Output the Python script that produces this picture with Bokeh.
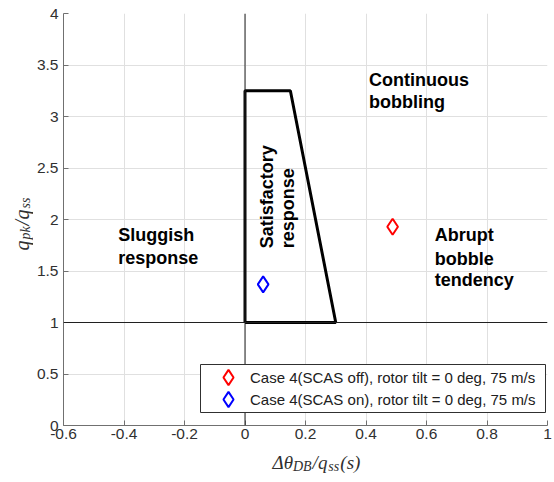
import math
from bokeh.plotting import figure
from bokeh.layouts import row, column
from bokeh.models import Range1d, Span, Legend, LegendItem, FixedTicker, BoxAnnotation
from bokeh.core.properties import value
from bokeh.embed import file_html
from bokeh.resources import INLINE

# ---- data ----
x_ticks = [-0.6, -0.4, -0.2, 0, 0.2, 0.4, 0.6, 0.8, 1]
x_tick_labels = ["-0.6", "-0.4", "-0.2", "0", "0.2", "0.4", "0.6", "0.8", "1"]
y_ticks = [0, 0.5, 1, 1.5, 2, 2.5, 3, 3.5, 4]
y_tick_labels = ["0", "0.5", "1", "1.5", "2", "2.5", "3", "3.5", "4"]

boundary_x = [0, 0, 0.15, 0.30, 0]
boundary_y = [1, 3.25, 3.25, 1, 1]
ref_x = 0
ref_y = 1

case_names = ["Case 4(SCAS off), rotor tilt = 0 deg, 75 m/s",
              "Case 4(SCAS on), rotor tilt = 0 deg, 75 m/s"]
case_x = [0.488, 0.06]
case_y = [1.93, 1.37]
case_colors = ["#ff0000", "#0000ff"]

region_lines = ["Continuous", "bobbling", "Sluggish", "response", "Abrupt", "bobble", "tendency"]
region_x = [0.41, 0.41, -0.419, -0.419, 0.627, 0.627, 0.627]
region_y = [3.35, 3.136, 1.845, 1.631, 1.845, 1.621, 1.408]

sat_lines = ["Satisfactory", "response"]
sat_x = [0.073, 0.142]
sat_y = [1.72, 1.72]

# axis label pieces (main text / subscript)
xlabel_parts = ["Δθ", "DB", "/", "q", "ss", "(s)"]
xlabel_sub = [False, True, False, False, True, False]
ylabel_parts = ["q", "pk", "/", "q", "ss"]
ylabel_sub = [False, True, False, False, True]

W, H = 554, 482
YL_W = 33          # width of the y-label strip
MAIN_H = 445       # height of main plot
XL_H = H - MAIN_H  # height of x-label strip

# ---- main figure ----
p = figure(width=W - YL_W, height=MAIN_H, x_range=Range1d(-0.6, 1), y_range=Range1d(0, 4),
           output_backend="svg", toolbar_location=None,
           min_border_left=63 - YL_W, min_border_right=7, min_border_top=13,
           min_border_bottom=MAIN_H - 425)
p.outline_line_color = None
p.background_fill_color = "white"
p.border_fill_color = "white"

for ax, ticks, labels in ((p.xaxis[0], x_ticks, x_tick_labels), (p.yaxis[0], y_ticks, y_tick_labels)):
    ax.ticker = FixedTicker(ticks=ticks)
    ax.major_label_overrides = {t: l for t, l in zip(ticks, labels)}
    ax.major_tick_in = 5
    ax.major_tick_out = 0
    ax.minor_tick_line_color = None
    ax.axis_line_color = "#707070"
    ax.major_tick_line_color = "#707070"
    ax.major_label_text_font = "Liberation Sans"
    ax.major_label_text_font_size = "15.5px"
    ax.major_label_text_color = "#303030"
    ax.axis_label = None
p.xaxis[0].major_label_standoff = 3
p.yaxis[0].major_label_standoff = 5

p.xgrid.ticker = FixedTicker(ticks=x_ticks)
p.ygrid.ticker = FixedTicker(ticks=y_ticks)
p.grid.grid_line_color = "#e0e0e0"
p.grid.grid_line_width = 1

p.add_layout(Span(location=ref_x, dimension="height", line_color="#202020", line_width=1))
p.add_layout(Span(location=ref_y, dimension="width", line_color="#202020", line_width=1))

p.line(boundary_x, boundary_y, line_color="black", line_width=3)

p.text(x=region_x, y=region_y, text=region_lines, text_font=value("Liberation Sans"),
       text_font_style="bold", text_font_size="18px", text_align="left",
       text_baseline="middle", text_color="black")
p.text(x=sat_x, y=sat_y, text=sat_lines, angle=math.pi / 2, text_font=value("Liberation Sans"),
       text_font_style="bold", text_font_size="18px", text_align="left",
       text_baseline="middle", text_color="black")

# pixel -> data helpers (frame: x 63..547, y 13..425 in page pixels)
def px2x(px):
    return (px - 63) / 302.5 - 0.6

def py2y(py):
    return (425 - py) / 103.0

# legend frame
p.add_layout(BoxAnnotation(left=px2x(200), right=px2x(545), top=py2y(364), bottom=py2y(412),
                           fill_color="white", fill_alpha=1, line_color="#303030",
                           line_width=1, line_alpha=1))

legend_offsets = [29, 7]
for name, cx, cy, col, off in zip(case_names, case_x, case_y, case_colors, legend_offsets):
    r = p.scatter([cx], [cy], marker="diamond", size=16, fill_color=None,
                  line_color=col, line_width=2)
    lg = Legend(items=[LegendItem(label=name, renderers=[r])], location=(143, off),
                glyph_width=44, glyph_height=38, label_standoff=0, label_height=20,
                padding=0, spacing=0, border_line_color=None, background_fill_alpha=0,
                label_text_font="Liberation Sans", label_text_font_size="15px",
                label_text_color="#202020")
    p.add_layout(lg)

def strip(width, height, xr, yr):
    f = figure(width=width, height=height, x_range=Range1d(*xr), y_range=Range1d(*yr),
               output_backend="svg", toolbar_location=None, x_axis_location=None,
               y_axis_location=None, min_border=0)
    f.outline_line_color = None
    f.grid.visible = False
    f.background_fill_color = "white"
    f.border_fill_color = "white"
    return f

serif = value("Liberation Serif")

# ---- y label strip (page pixel coordinates, y measured from bottom) ----
yl = strip(YL_W, H, (0, YL_W), (0, H))
y_starts_px = [250, 239, 225, 219, 208]
yl.text(x=[24.5 if s else 21.5 for s in ylabel_sub], y=[H - v for v in y_starts_px],
        text=ylabel_parts, angle=math.pi / 2, text_font=serif, text_font_style="italic",
        text_font_size=["14px" if s else "20px" for s in ylabel_sub],
        text_align="left", text_baseline="alphabetic", text_color="#303030")

# ---- x label strip ----
xl = strip(W - YL_W, XL_H, (YL_W, W), (0, XL_H))
x_starts_px = [258, 280, 301, 307, 318, 331]
xl.text(x=x_starts_px, y=[H - (466 if s else 462) for s in xlabel_sub],
        text=xlabel_parts, text_font=serif, text_font_style="italic",
        text_font_size=["14px" if s else "19px" for s in xlabel_sub],
        text_align="left", text_baseline="alphabetic", text_color="#303030")

layout = row(yl, column(p, xl, spacing=0), spacing=0)
open("out.html", "w").write(file_html(layout, INLINE))
